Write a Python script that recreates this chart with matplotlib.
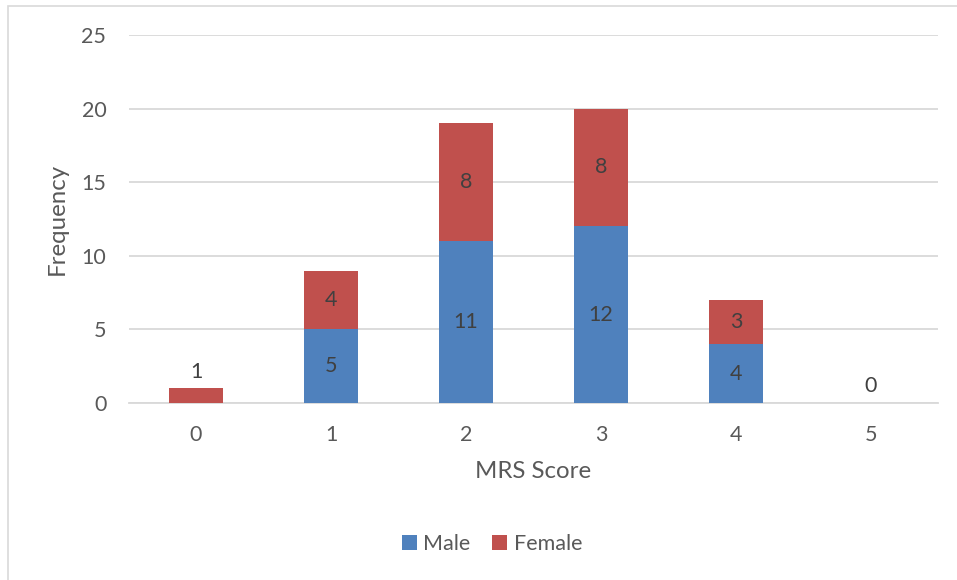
import matplotlib.pyplot as plt
from matplotlib.patches import Rectangle

plt.rcParams['font.family'] = ['Lato', 'DejaVu Sans']

# MRS score distribution split by sex
scores = ["0", "1", "2", "3", "4", "5"]
male = [0, 5, 11, 12, 4, 0]
female = [1, 4, 8, 8, 3, 0]

MALE_C = "#4F81BD"
FEMALE_C = "#C0504D"
TEXT_C = "#595959"
LABEL_C = "#404040"
GRID_C = "#D9D9D9"
FS = 15.5

fig = plt.figure(figsize=(9.57, 5.8), dpi=100)
# chart frame (only top/left edges fall inside the image)
fig.patches.append(Rectangle((8 / 957, -0.1), 1.2, 1.1 - 6 / 580,
                             transform=fig.transFigure, fill=False,
                             edgecolor="#D9D9D9", linewidth=1.2))

ax = fig.add_axes([128.5 / 957, 1 - 403 / 580, 810 / 957, 368 / 580])
x = list(range(len(scores)))
width = 0.4

ax.bar(x, male, width, color=MALE_C, label="Male", zorder=3)
ax.bar(x, female, width, bottom=male, color=FEMALE_C, label="Female", zorder=3)

for i in x:
    m, f = male[i], female[i]
    if m > 0:
        ax.text(i, m / 2, str(m), ha="center", va="center",
                fontsize=FS, color=LABEL_C, zorder=4)
    if f >= 2:
        ax.text(i, m + f / 2, str(f), ha="center", va="center",
                fontsize=FS, color=LABEL_C, zorder=4)
    else:
        ax.annotate(str(f), (i, m + f), xytext=(0, 12), textcoords="offset points",
                    ha="center", va="center", fontsize=FS, color=LABEL_C, zorder=4)

ax.set_xlim(-0.5, len(scores) - 0.5)
ax.set_ylim(0, 25)
ax.set_yticks([0, 5, 10, 15, 20, 25])
ax.set_xticks(x)
ax.set_xticklabels(scores)
ax.yaxis.grid(True, color=GRID_C, linewidth=1.3, zorder=0)
ax.set_axisbelow(True)
for side in ["top", "right", "left"]:
    ax.spines[side].set_visible(False)
ax.spines["bottom"].set_color(GRID_C)
ax.spines["bottom"].set_linewidth(1.3)
ax.tick_params(axis="both", length=0, labelsize=FS, colors=TEXT_C)
ax.tick_params(axis="y", pad=16)
ax.tick_params(axis="x", pad=16)

ax.set_xlabel("MRS Score", fontsize=17.3, color=TEXT_C, labelpad=11)
ax.set_ylabel("Frequency", fontsize=17.3, color=TEXT_C, labelpad=10)

ax.legend(loc="center", bbox_to_anchor=(492 / 957, 1 - 544 / 580),
          bbox_transform=fig.transFigure, ncol=2, frameon=False,
          fontsize=FS, labelcolor=TEXT_C, handlelength=0.7, handleheight=0.7,
          columnspacing=1.0, handletextpad=0.3)

fig.savefig("out.png", dpi=100)
